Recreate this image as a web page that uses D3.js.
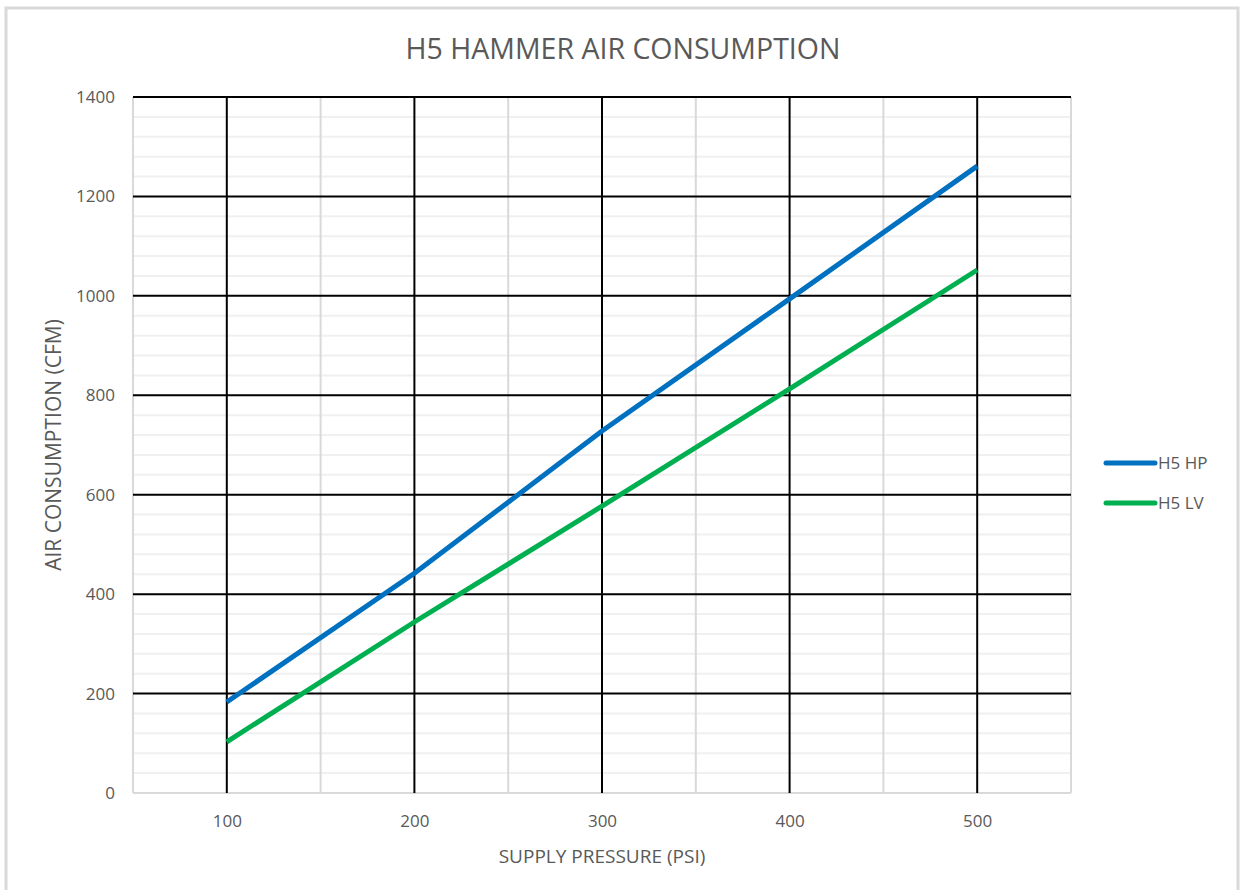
<!DOCTYPE html>
<html lang="en">
<head>
  <meta charset="UTF-8">
  <title>H5 Hammer Air Consumption</title>
  <script src="https://d3js.org/d3.v7.min.js"></script>
  <style>
    body { margin: 0; background: #fff; }
    svg text { font-family: "Open Sans", "Noto Sans", sans-serif; fill: #595959; }
  </style>
</head>
<body>
  <svg width="1243" height="890"></svg>
  <script>
    // pressure (psi) and consumption (cfm)
    const pressures = [100, 200, 300, 400, 500];
    const hpValues = [183, 442, 728, 994, 1261];
    const lvValues = [103, 344, 577, 813, 1052];
    const seriesNames = ["H5 HP", "H5 LV"];
    const seriesColors = ["#0070C0", "#00B050"];
    const xTicks = [100, 200, 300, 400, 500];
    const yTicks = [0, 200, 400, 600, 800, 1000, 1200, 1400];

    const svg = d3.select("svg");
    const margin = { top: 97, left: 133, right: 172, bottom: 97 };
    const width = 1071 - margin.left;
    const height = 793 - margin.top;

    // outer chart frame
    svg.append("rect")
      .attr("x", 6).attr("y", 8).attr("width", 1232).attr("height", 900)
      .attr("fill", "none").attr("stroke", "#d9d9d9").attr("stroke-width", 3);

    const x = d3.scaleLinear().domain([50, 550]).range([0, width]);
    const y = d3.scaleLinear().domain([0, 1400]).range([height, 0]);

    const g = svg.append("g").attr("transform", `translate(${margin.left},${margin.top})`);

    // minor horizontal grid every 40
    g.append("g").selectAll("line")
      .data(d3.range(40, 1400, 40).filter(v => v % 200 !== 0))
      .join("line")
      .attr("x1", 0).attr("x2", width)
      .attr("y1", d => y(d)).attr("y2", d => y(d))
      .attr("stroke", "#f0f0f0").attr("stroke-width", 2);

    // minor vertical grid
    g.append("g").selectAll("line")
      .data([50, 150, 250, 350, 450, 550])
      .join("line")
      .attr("x1", d => x(d)).attr("x2", d => x(d))
      .attr("y1", 0).attr("y2", height)
      .attr("stroke", "#d9d9d9").attr("stroke-width", 2);

    // bottom axis baseline
    g.append("line")
      .attr("x1", 0).attr("x2", width)
      .attr("y1", height).attr("y2", height)
      .attr("stroke", "#d9d9d9").attr("stroke-width", 2);

    // major grid
    g.append("g").selectAll("line")
      .data(yTicks.filter(v => v > 0))
      .join("line")
      .attr("x1", 0).attr("x2", width)
      .attr("y1", d => y(d)).attr("y2", d => y(d))
      .attr("stroke", "#000").attr("stroke-width", 2);

    g.append("g").selectAll("line")
      .data(xTicks)
      .join("line")
      .attr("x1", d => x(d)).attr("x2", d => x(d))
      .attr("y1", 0).attr("y2", height)
      .attr("stroke", "#000").attr("stroke-width", 2);

    // axes (labels only)
    const xAxis = g.append("g")
      .attr("transform", `translate(0,${height})`)
      .call(d3.axisBottom(x).tickValues(xTicks).tickSize(0).tickPadding(22).tickFormat(d3.format("d")));
    const yAxis = g.append("g")
      .call(d3.axisLeft(y).tickValues(yTicks).tickSize(0).tickPadding(18).tickFormat(d3.format("d")));
    [xAxis, yAxis].forEach(a => {
      a.select(".domain").remove();
      a.selectAll("text").style("font-size", "17px").attr("fill", "#595959")
        .style("font-family", "'Open Sans', 'Noto Sans', sans-serif");
    });

    // series lines
    const line = d3.line().x((d, i) => x(pressures[i])).y(d => y(d));
    [hpValues, lvValues].forEach((vals, i) => {
      g.append("path")
        .datum(vals)
        .attr("fill", "none")
        .attr("stroke", seriesColors[i])
        .attr("stroke-width", 5)
        .attr("d", line);
    });

    // title and axis titles
    svg.append("text")
      .attr("x", 623).attr("y", 59)
      .attr("text-anchor", "middle")
      .style("font-size", "28.5px")
      .text("H5 HAMMER AIR CONSUMPTION");

    svg.append("text")
      .attr("x", 602).attr("y", 863)
      .attr("text-anchor", "middle")
      .style("font-size", "19px")
      .text("SUPPLY PRESSURE (PSI)");

    svg.append("text")
      .attr("transform", "translate(61,445) rotate(-90)")
      .attr("text-anchor", "middle")
      .style("font-size", "21px")
      .text("AIR CONSUMPTION (CFM)");

    // legend
    const legend = svg.append("g").attr("transform", "translate(1106,463)");
    seriesNames.forEach((name, i) => {
      const row = legend.append("g").attr("transform", `translate(0,${i * 40})`);
      row.append("line")
        .attr("x1", 0).attr("x2", 49)
        .attr("stroke", seriesColors[i]).attr("stroke-width", 5)
        .attr("stroke-linecap", "round");
      row.append("text")
        .attr("x", 52).attr("dy", "0.35em")
        .style("font-size", "17px")
        .text(name);
    });
  </script>
</body>
</html>
